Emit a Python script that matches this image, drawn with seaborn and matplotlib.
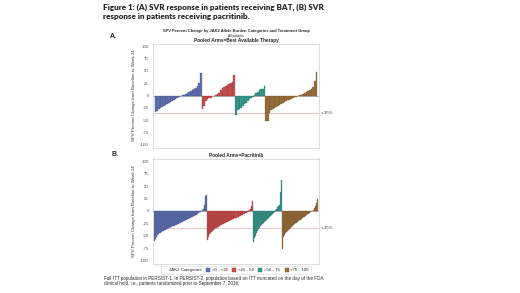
import matplotlib
matplotlib.use("Agg")
import matplotlib.pyplot as plt
import matplotlib.patches as mpatches
import pandas as pd
import seaborn as sns

# JAK2 allele burden categories
categories = [">0 - <25", ">25 - 50", ">50 - 75", ">75 - 100"]
cat_colors = ["#6373b0", "#c95352", "#3f9a90", "#9c733f"]
edge_colors = ["#3d4c88", "#962f30", "#226b63", "#6b4a22"]

# Panel A: Best Available Therapy (sorted SPV % change per patient)
bat_lt25 = [-33, -31, -28, -26, -24, -22, -20, -18, -16, -14, -12, -10, -8, -6,
            -4, -2, 1, 2, 4, 5, 7, 9, 11, 13, 16, 20, 25, 45]
bat_25_50 = [-28, -22, -12, -8, -6, -5, 0, 0, 1, 3, 6, 12, 16, 18, 20, 22, 24,
             26, 28, 42]
bat_50_75 = [-40, -30, -28, -25, -22, -18, -15, -12, -8, -5, -3, 2, 5, 8, 12,
             13, 14, 20]
bat_75_100 = [-52, -52, -35, -30, -28, -25, -23, -21, -19, -17, -15, -13, -12,
              -10, -9, -7, -6, -4, -3, -2, 1, 2, 4, 6, 8, 10, 12, 14, 18, 30, 48]

# Panel B: pacritinib
pac_lt25 = [-60, -57, -52, -48, -46, -45, -44, -42, -41, -40, -39, -38, -37,
            -36, -35, -34, -33, -32, -31, -30, -30, -29, -28, -27, -26, -25,
            -24, -23, -22, -21, -20, -19, -18, -17, -16, -15, -14, -13, -12,
            -11, -10, -9, -8, -6, -5, -3, -2, -1, 2, 5, 12, 30, 33]
pac_25_50 = [-58, -52, -47, -44, -42, -40, -38, -36, -35, -34, -33, -32, -30,
             -29, -28, -27, -26, -25, -24, -23, -22, -21, -20, -19, -18, -17,
             -16, -15, -14, -13, -12, -11, -10, -9, -8, -7, -6, -5, -4, -3, -2,
             2, 5, 10, 20]
pac_50_75 = [-63, -55, -50, -45, -40, -37, -34, -31, -28, -26, -24, -22, -20,
             -18, -16, -14, -12, -10, -8, -6, -4, -2, 2, 5, 8, 10, 12, 38, 62]
pac_75_100 = [-77, -52, -48, -45, -42, -40, -38, -36, -34, -32, -30, -28, -27,
              -25, -24, -22, -21, -19, -18, -16, -15, -13, -12, -10, -9, -7,
              -6, -4, -3, -1, 1, 3, 6, 10, 16, 24]

y_ticks = [100, 75, 50, 25, 0, -25, -50, -75, -100]
threshold = -35


def to_frame(groups):
    rows = []
    i = 0
    for cat, vals in zip(categories, groups):
        for v in vals:
            rows.append({"idx": i, "value": v, "cat": cat})
            i += 1
    return pd.DataFrame(rows)


def waterfall(ax, groups):
    df = to_frame(groups)
    n = len(df)
    sns.barplot(data=df, x="idx", y="value", hue="cat", hue_order=categories,
                palette=dict(zip(categories, cat_colors)), dodge=False,
                saturation=1, width=1.0, legend=False, ax=ax)
    # darker outlines per category
    edge_of = dict(zip(cat_colors, edge_colors))
    for patch in ax.patches:
        fc = matplotlib.colors.to_hex(patch.get_facecolor())
        patch.set_edgecolor(edge_of.get(fc, "#333333"))
        patch.set_linewidth(0.2)
    ax.axhline(0, color="#9a9a9a", lw=0.5, zorder=0)
    ax.axhline(threshold, color="#f0a8a8", lw=0.5, zorder=0)
    ax.set_xlim(-1.5, n + 0.5)
    ax.set_ylim(-106, 106)
    ax.set_yticks(y_ticks)
    ax.set_yticklabels([str(t) for t in y_ticks])
    ax.set_xticks([])
    ax.set_xlabel("")
    ax.set_ylabel("SPV Percent Change from Baseline to Week 24", fontsize=3.2,
                  color="#333333", labelpad=3)
    ax.tick_params(axis="y", labelsize=3.2, length=1.5, width=0.3,
                   colors="#555555", pad=1.5)
    for s in ax.spines.values():
        s.set_color("#cfcfcf")
        s.set_linewidth(0.5)
    ax.text(1.012, threshold, "<-35%", transform=ax.get_yaxis_transform(),
            fontsize=3.2, va="center", ha="left", color="#333333")


sns.set_style("white")
plt.rcParams["font.family"] = ["Liberation Sans", "DejaVu Sans"]

fig = plt.figure(figsize=(5.2, 2.93), dpi=100)

ax_a = fig.add_axes([153 / 520, 1 - 147.5 / 293, 166 / 520, 104 / 293])
waterfall(ax_a, [bat_lt25, bat_25_50, bat_50_75, bat_75_100])

ax_b = fig.add_axes([153 / 520, 1 - 263.5 / 293, 166 / 520, 105 / 293])
waterfall(ax_b, [pac_lt25, pac_25_50, pac_50_75, pac_75_100])

fig.text(103 / 520, 1 - 4 / 293,
         "Figure 1: (A) SVR response in patients receiving BAT, (B) SVR\n"
         "response in patients receiving pacritinib.",
         fontsize=5.8, fontweight="heavy", family=["Lato", "DejaVu Sans"],
         ha="left", va="top", linespacing=1.25)

fig.text(110 / 520, 1 - 37 / 293, "A.", fontsize=5, fontweight="bold",
         ha="left", va="center")
fig.text(111 / 520, 1 - 155 / 293, "B.", fontsize=5, fontweight="bold",
         ha="left", va="center")

fig.text(236 / 520, 1 - 31 / 293,
         "SPV Percent Change by JAK2 Allele Burden Categories and Treatment Group",
         fontsize=2.9, fontweight="bold", ha="center", va="center")
fig.text(236 / 520, 1 - 35.5 / 293, "All patients", fontsize=2.3,
         ha="center", va="center")
fig.text(236 / 520, 1 - 40.5 / 293, "Pooled Arms=Best Available Therapy",
         fontsize=3.4, fontweight="bold", ha="center", va="center")
fig.text(236 / 520, 1 - 155.5 / 293, "Pooled Arms=Pacritinib",
         fontsize=3.4, fontweight="bold", ha="center", va="center")

handles = [mpatches.Patch(facecolor="none", edgecolor="none")]
handles += [mpatches.Patch(facecolor=c, edgecolor=e, linewidth=0.3)
            for c, e in zip(cat_colors, edge_colors)]
labels = ["JAK2 Categories"] + categories
leg = fig.legend(handles, labels, loc="center", ncol=5,
                 bbox_to_anchor=(236 / 520, 1 - 270 / 293), fontsize=3.2,
                 frameon=True, handlelength=0.9, handleheight=0.9,
                 handletextpad=0.4, columnspacing=1.0, borderpad=0.4)
leg.get_frame().set_edgecolor("#cfcfcf")
leg.get_frame().set_linewidth(0.4)
leg.get_frame().set_boxstyle("square", pad=0)
leg.legend_handles[0].set_width(0)

fig.text(104 / 520, 1 - 276 / 293,
         "Full ITT population in PERSIST-1. In PERSIST-2, population based on "
         "ITT truncated on the day of the FDA\n"
         "clinical hold, i.e., patients randomized prior to September 7, 2016.",
         fontsize=3.3, ha="left", va="top", linespacing=1.1)

fig.savefig("out.png", dpi=100, facecolor="white")
